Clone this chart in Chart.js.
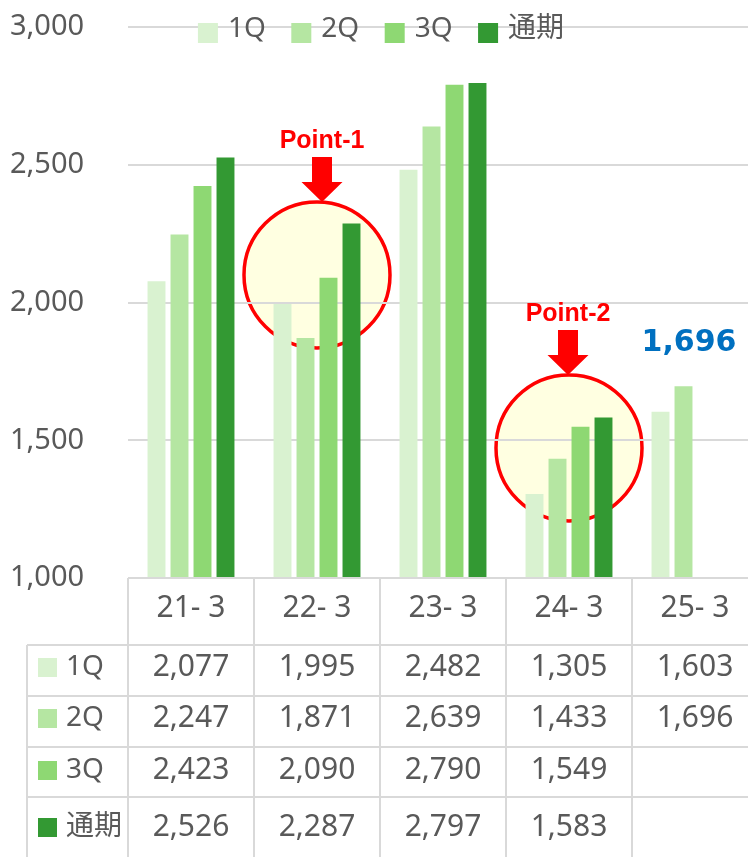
<!DOCTYPE html>
<html>
<head>
<meta charset="utf-8">
<script src="https://cdn.jsdelivr.net/npm/chart.js@4.4.0/dist/chart.umd.min.js"></script>
<style>
  html, body { margin: 0; padding: 0; background: #fff; overflow: hidden; }
  #wrap { width: 758px; height: 857px; }
</style>
</head>
<body>
<div id="wrap"><canvas id="sales_chart" width="758" height="857"></canvas></div>
<script>
// data
var categories = ["21- 3", "22- 3", "23- 3", "24- 3", "25- 3"];
var series_names = ["1Q", "2Q", "3Q", "通期"];
var q1_values = [2077, 1995, 2482, 1305, 1603];
var q2_values = [2247, 1871, 2639, 1433, 1696];
var q3_values = [2423, 2090, 2790, 1549, null];
var full_year_values = [2526, 2287, 2797, 1583, null];
var y_min = 1000;
var y_max = 3000;
var y_step = 500;
var highlight_value = 1696;
var point_names = ["Point-1", "Point-2"];
var point_categories = [1, 3];
var point_values = [2100, 1472];

var FONT = "'Noto Sans', 'Noto Sans CJK JP', sans-serif";
var BOLD_FONT = "'DejaVu Sans', sans-serif";
var POINT_FONT = "'Liberation Sans', Arial, sans-serif";
var TEXT_COLOR = "#595959";
var LINE_COLOR = "#d9d9d9";
var SERIES_COLORS = ["#d9f2d0", "#b5e6a2", "#8ed873", "#339933"];

var all_values = [q1_values, q2_values, q3_values, full_year_values];

function fmt(v) {
    return v == null ? "" : v.toLocaleString("en-US");
}

/*
############################## Plugins ##############################
*/
var highlight_circles = {
    id: "highlight_circles",
    beforeDraw: function(chart) {
        var ctx = chart.ctx, xs = chart.scales.x, ys = chart.scales.y;
        point_names.forEach(function(name, i) {
            var cx = xs.getPixelForValue(point_categories[i]);
            var cy = ys.getPixelForValue(point_values[i]);
            ctx.save();
            ctx.beginPath();
            ctx.arc(cx, cy, 73, 0, Math.PI * 2);
            ctx.fillStyle = "#ffffe1";
            ctx.fill();
            ctx.lineWidth = 3.5;
            ctx.strokeStyle = "#ff0000";
            ctx.stroke();
            ctx.restore();
        });
    }
};

var point_arrows = {
    id: "point_arrows",
    afterDraw: function(chart) {
        var ctx = chart.ctx, xs = chart.scales.x, ys = chart.scales.y;
        ctx.save();
        point_names.forEach(function(name, i) {
            var cx = xs.getPixelForValue(point_categories[i]) + (i == 0 ? 5 : -1);
            var tip = ys.getPixelForValue(point_values[i]) - 73;
            ctx.fillStyle = "#ff0000";
            ctx.beginPath();
            ctx.moveTo(cx - 10, tip - 45);
            ctx.lineTo(cx + 10, tip - 45);
            ctx.lineTo(cx + 10, tip - 20);
            ctx.lineTo(cx + 20.5, tip - 20);
            ctx.lineTo(cx, tip);
            ctx.lineTo(cx - 20.5, tip - 20);
            ctx.lineTo(cx - 10, tip - 20);
            ctx.closePath();
            ctx.fill();

            ctx.font = "bold 25px " + POINT_FONT;
            ctx.textAlign = "center";
            ctx.textBaseline = "alphabetic";
            ctx.fillText(name, cx, tip - 54);
        });

        // highlighted last value
        ctx.fillStyle = "#0070c0";
        ctx.font = "bold 30px " + BOLD_FONT;
        ctx.textAlign = "center";
        ctx.textBaseline = "middle";
        ctx.fillText(fmt(highlight_value), xs.getPixelForValue(4) - 6, ys.getPixelForValue(highlight_value) - 43);
        ctx.restore();
    }
};

var top_legend = {
    id: "top_legend",
    afterDraw: function(chart) {
        var ctx = chart.ctx;
        var gap = 25.5;
        ctx.save();
        ctx.font = "28px " + FONT;
        var widths = series_names.map(function(n) { return 30 + ctx.measureText(n).width; });
        var total = widths.reduce(function(a, b) { return a + b; }, 0) + gap * (series_names.length - 1);
        var x = chart.width / 2 + 2 - total / 2;
        series_names.forEach(function(n, i) {
            ctx.fillStyle = SERIES_COLORS[i];
            ctx.fillRect(x, 23, 20, 20);
            ctx.fillStyle = TEXT_COLOR;
            ctx.textAlign = "left";
            ctx.textBaseline = "middle";
            ctx.fillText(n, x + 30, 29);
            x += widths[i] + gap;
        });
        ctx.restore();
    }
};

var data_table = {
    id: "data_table",
    afterDraw: function(chart) {
        var ctx = chart.ctx, xs = chart.scales.x, area = chart.chartArea;
        var W = chart.width, H = chart.height;
        var row_tops = [645, 696, 747, 797];
        var row_mid = [667, 718, 770, 827];
        var left = 27;

        ctx.save();
        ctx.strokeStyle = LINE_COLOR;
        ctx.lineWidth = 2;
        function line(x1, y1, x2, y2) {
            ctx.beginPath();
            ctx.moveTo(x1, y1);
            ctx.lineTo(x2, y2);
            ctx.stroke();
        }
        line(area.left, area.bottom, W, area.bottom);
        line(area.left, area.bottom, area.left, H);
        for (var i = 1; i < categories.length; i++) {
            var bx = (xs.getPixelForValue(i - 1) + xs.getPixelForValue(i)) / 2;
            line(bx, area.bottom, bx, H);
        }
        row_tops.forEach(function(t) { line(left, t, W, t); });
        line(left, row_tops[0], left, H);

        ctx.textBaseline = "middle";
        series_names.forEach(function(n, r) {
            ctx.fillStyle = SERIES_COLORS[r];
            ctx.fillRect(38, row_mid[r] - 9, 19, 19);
            ctx.fillStyle = TEXT_COLOR;
            ctx.font = "28px " + FONT;
            ctx.textAlign = "left";
            ctx.fillText(n, 66, row_mid[r]);
            ctx.font = "30px " + FONT;
            ctx.textAlign = "center";
            all_values[r].forEach(function(v, c) {
                ctx.fillText(fmt(v), xs.getPixelForValue(c), row_mid[r]);
            });
        });
        ctx.restore();
    }
};

/*
############################## Chart ##############################
*/
function draw_chart() {
    var canvas = document.getElementById("sales_chart");
    var datasets = series_names.map(function(n, i) {
        return {
            label: n,
            data: all_values[i],
            backgroundColor: SERIES_COLORS[i],
            borderWidth: 0,
            categoryPercentage: 0.73,
            barPercentage: 0.78
        };
    });

    return new Chart(canvas, {
        type: "bar",
        data: {
            labels: categories,
            datasets: datasets
        },
        options: {
            responsive: false,
            animation: false,
            layout: { padding: { top: 27, left: 10, right: 0, bottom: 0 } },
            plugins: {
                legend: { display: false },
                tooltip: { enabled: false }
            },
            scales: {
                x: {
                    grid: { display: false, drawTicks: false },
                    border: { display: false },
                    ticks: {
                        color: TEXT_COLOR,
                        font: { family: FONT, size: 30 },
                        padding: 12,
                        maxRotation: 0
                    },
                    afterFit: function(s) { s.height = 279; }
                },
                y: {
                    min: y_min,
                    max: y_max,
                    grid: { color: LINE_COLOR, lineWidth: 2, drawTicks: false },
                    border: { display: false },
                    ticks: {
                        stepSize: y_step,
                        color: TEXT_COLOR,
                        font: { family: FONT, size: 29 },
                        padding: 0,
                        crossAlign: "far",
                        callback: function(v) { return fmt(v); }
                    },
                    afterFit: function(s) { s.width = 118; }
                }
            }
        },
        plugins: [highlight_circles, data_table, top_legend, point_arrows]
    });
}

draw_chart();
</script>
</body>
</html>
